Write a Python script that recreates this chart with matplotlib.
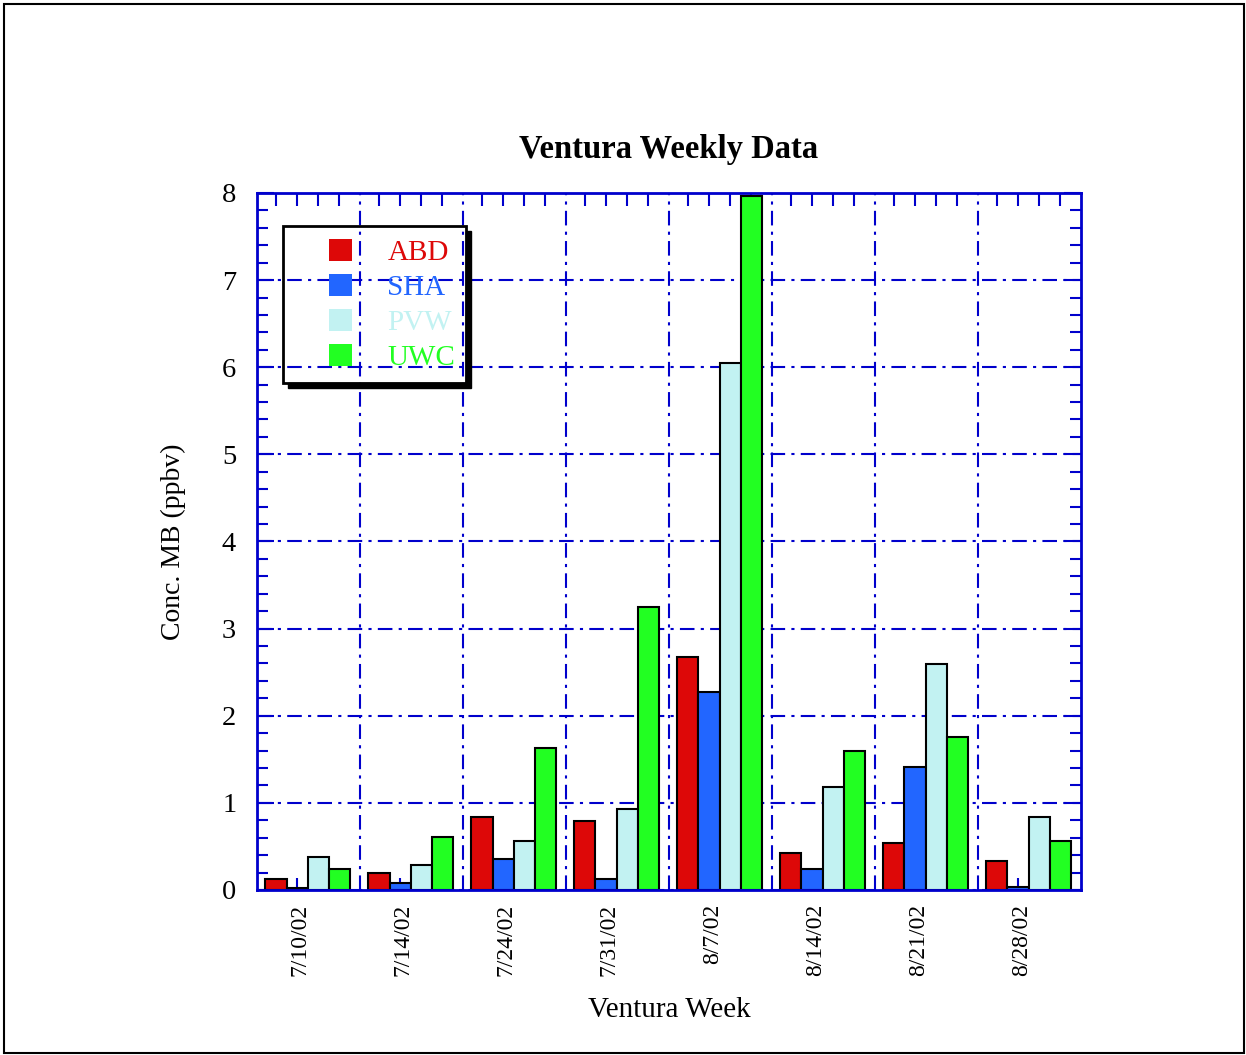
import matplotlib
matplotlib.use('Agg')
import matplotlib.pyplot as plt
import matplotlib.transforms as mtransforms
from matplotlib.patches import Rectangle, Polygon, Patch
import numpy as np

plt.rcParams['font.family'] = ['Liberation Serif', 'DejaVu Serif']

# Data
weeks = ['7/10/02', '7/14/02', '7/24/02', '7/31/02', '8/7/02', '8/14/02', '8/21/02', '8/28/02']
sites = ['ABD', 'SHA', 'PVW', 'UWC']
abd = [0.13, 0.20, 0.84, 0.79, 2.67, 0.43, 0.54, 0.33]
sha = [0.02, 0.08, 0.36, 0.13, 2.27, 0.24, 1.41, 0.04]
pvw = [0.38, 0.29, 0.56, 0.93, 6.05, 1.18, 2.59, 0.84]
uwc = [0.24, 0.61, 1.63, 3.25, 7.96, 1.60, 1.76, 0.56]
series = [abd, sha, pvw, uwc]
colors = ['#DD0808', '#2266FF', '#C2F2F2', '#22FF22']

blue = '#0000CC'

fig = plt.figure(figsize=(12.46, 10.55), dpi=100)
ax = fig.add_axes([0.2063, 0.1564, 0.6613, 0.6607])

n = len(weeks)
w = 0.204
centers = np.arange(n) + 0.49
bar_x = []
for j, (vals, c) in enumerate(zip(series, colors)):
    xs = centers + (j - 1.5) * w
    bar_x.extend(xs)
    ax.bar(xs, vals, width=w, color=c, edgecolor='black', linewidth=1.5, zorder=3)

ax.set_xlim(0, n)
ax.set_ylim(0, 8)

# x axis: ticks at bar centres, grid at group boundaries
ax.set_xticks(sorted(bar_x))
ax.set_xticklabels([])
ax.set_xticks(np.arange(1, n), minor=True)
ax.tick_params(axis='x', which='major', direction='in', length=9, width=1.5,
               color=blue, top=True, bottom=True)
ax.tick_params(axis='x', which='minor', length=0)
ax.grid(which='minor', axis='x', color=blue, linestyle=(0, (7, 3, 1.5, 3)), linewidth=1.5, zorder=1)

# y axis
ax.set_yticks(np.arange(0, 9, 1))
ax.set_yticks(np.arange(0, 8.01, 0.2), minor=True)
ax.tick_params(axis='y', which='major', direction='in', length=12, width=1.5,
               color=blue, left=True, right=True, labelsize=20.5, pad=15)
ax.tick_params(axis='y', which='minor', direction='in', length=8, width=1.5,
               color=blue, left=True, right=True)
ax.grid(which='major', axis='y', color=blue, linestyle=(0, (7, 3, 1.5, 3)), linewidth=1.5, zorder=1)
ax.set_axisbelow(True)

for sp in ax.spines.values():
    sp.set_color(blue)
    sp.set_linewidth(2)
    sp.set_zorder(4)

# group labels
trans = mtransforms.blended_transform_factory(ax.transData, ax.transAxes)
for xc, lab in zip(centers, weeks):
    ax.text(xc - 0.07, -0.02, lab, transform=trans, rotation=90,
            ha='center', va='top', fontsize=17)

ax.set_ylabel('Conc. MB (ppbv)', fontsize=20, labelpad=26)
ax.set_xlabel('Ventura Week', fontsize=21)
ax.xaxis.set_label_coords(0.5, -0.153)
ax.set_title('Ventura Weekly Data', fontsize=23.5, fontweight='bold', pad=25)

# legend
handles = [Patch(facecolor=c, edgecolor='none') for c in colors]
ax.legend(handles, sites, loc='upper left', bbox_to_anchor=(0.0874, 0.934),
          frameon=False, fontsize=21, labelcolor=colors, borderpad=0, borderaxespad=0,
          handlelength=0.8, handleheight=0.8, handletextpad=1.2, labelspacing=0.26)

x0, x1, y0, y1 = 0.0316, 0.2536, 0.7274, 0.9527
dx, dy = 0.006, 0.007
ax.add_patch(Rectangle((x0, y0), x1 - x0, y1 - y0, transform=ax.transAxes,
                       fill=False, edgecolor='black', linewidth=2, zorder=5))
ax.add_patch(Polygon([(x1, y1 - dy), (x1 + dx, y1 - dy), (x1 + dx, y0 - dy),
                      (x0 + dx, y0 - dy), (x0 + dx, y0), (x1, y0)],
                     closed=True, transform=ax.transAxes, facecolor='black',
                     edgecolor='black', zorder=5))

# outer border
fig.patches.append(Rectangle((0.0032, 0.0019), 0.9952, 0.9943, transform=fig.transFigure,
                             fill=False, edgecolor='black', linewidth=1.5))

fig.savefig('out.png', dpi=100)
